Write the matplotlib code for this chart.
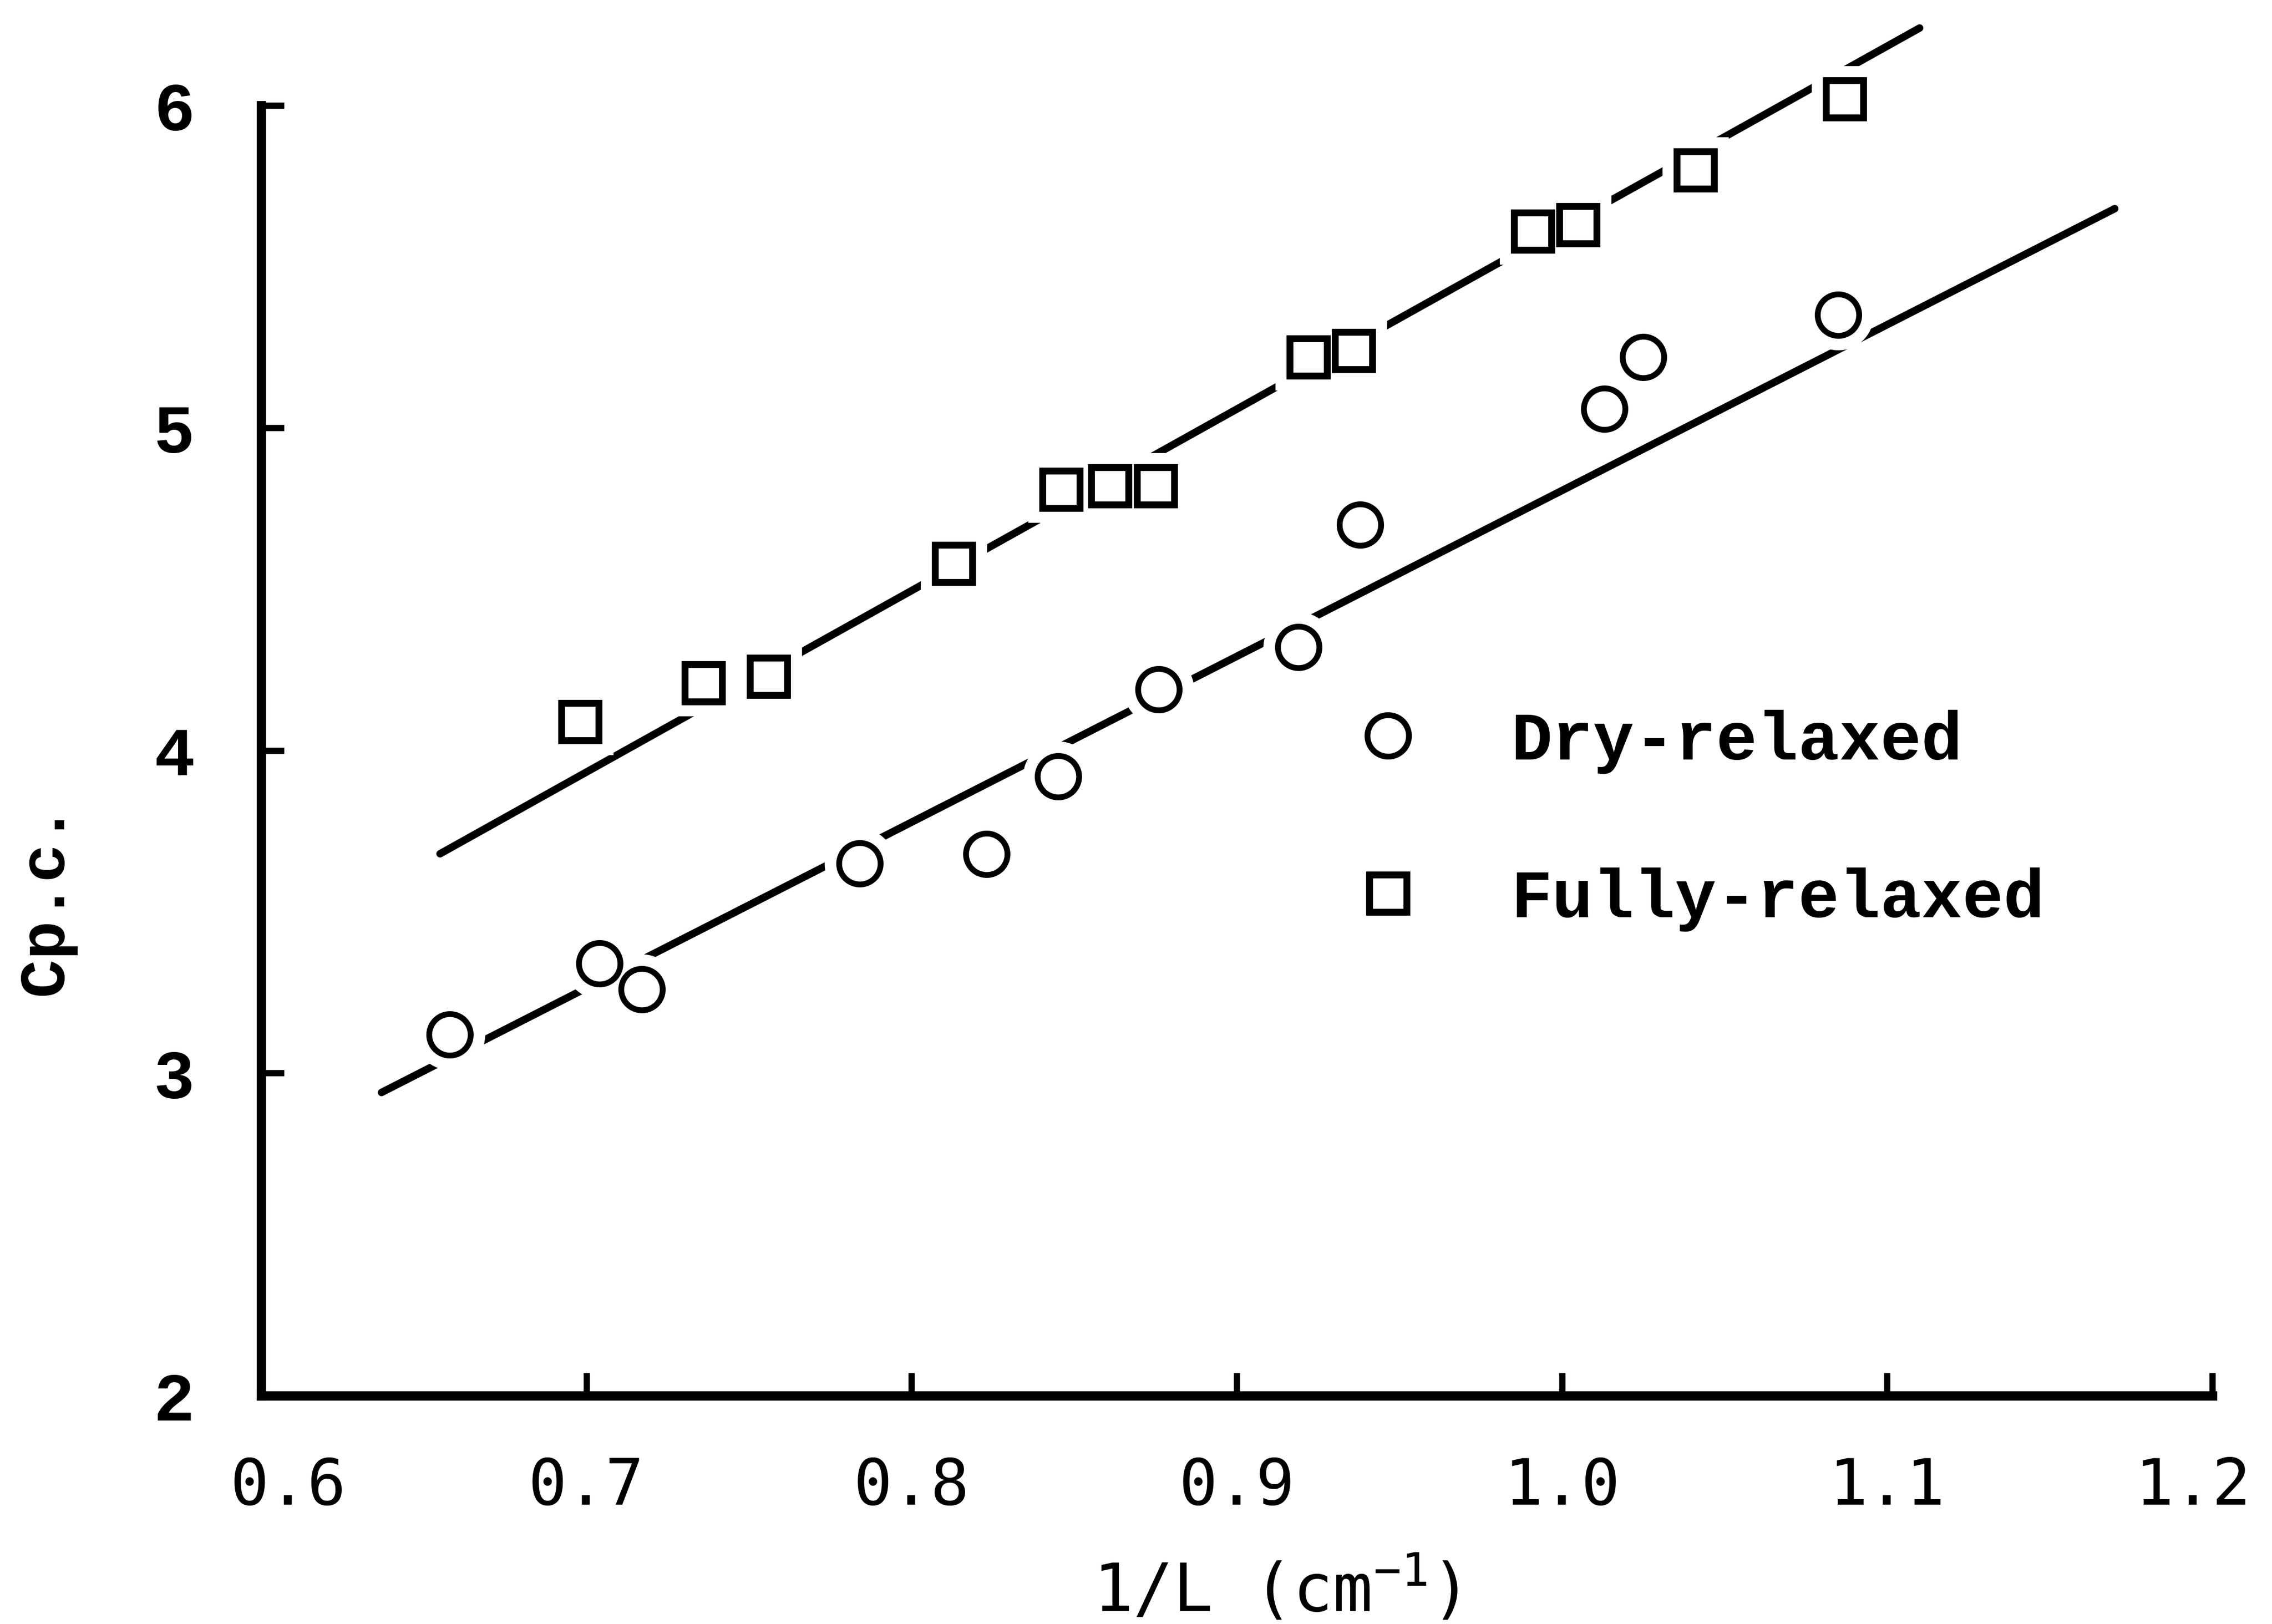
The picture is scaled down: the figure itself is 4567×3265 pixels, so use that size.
import matplotlib
matplotlib.use("Agg")
import matplotlib.pyplot as plt
from matplotlib.lines import Line2D
from matplotlib.transforms import ScaledTranslation

# ---- data ----
dry_x = [0.658, 0.704, 0.717, 0.784, 0.823, 0.845, 0.876, 0.919, 0.938, 1.013, 1.025, 1.085]
dry_y = [3.12, 3.34, 3.26, 3.65, 3.68, 3.92, 4.19, 4.32, 4.70, 5.06, 5.22, 5.35]
full_x = [0.698, 0.736, 0.756, 0.813, 0.846, 0.861, 0.875, 0.922, 0.936, 0.991, 1.005, 1.041, 1.087]
full_y = [4.09, 4.21, 4.23, 4.58, 4.81, 4.82, 4.82, 5.22, 5.24, 5.61, 5.63, 5.80, 6.02]
dry_line_x = [0.637, 1.170]
dry_line_y = [2.94, 5.68]
full_line_x = [0.655, 1.110]
full_line_y = [3.68, 6.24]
x_ticks = [0.6, 0.7, 0.8, 0.9, 1.0, 1.1, 1.2]
x_ticklabels = ["0.6", "0.7", "0.8", "0.9", "1.0", "1.1", "1.2"]
y_ticks = [2, 3, 4, 5, 6]
y_ticklabels = ["2", "3", "4", "5", "6"]
labels = ["Dry-relaxed", "Fully-relaxed"]

SERIF_MONO = "Liberation Mono"
SANS_MONO = "DejaVu Sans Mono"

fig = plt.figure(figsize=(4567 / 300, 3265 / 300), dpi=300)
ax = fig.add_axes([0.11496, 0.14058, 0.85877, 0.85409])

lw = 3.6
# fitted lines
ax.plot(dry_line_x, dry_line_y, color="black", lw=lw, solid_capstyle="round", zorder=1)
ax.plot(full_line_x, full_line_y, color="black", lw=lw, solid_capstyle="round", zorder=1)

# white halos that break the lines around the points
ax.plot(dry_x, dry_y, ls="none", marker="o", ms=20, mfc="white", mec="white", mew=14, zorder=2)
ax.plot(full_x, full_y, ls="none", marker="s", ms=18, mfc="white", mec="white", mew=14, zorder=2)

# points
ax.plot(dry_x, dry_y, ls="none", marker="o", ms=20, mfc="white", mec="black", mew=2.8, zorder=3)
ax.plot(full_x, full_y, ls="none", marker="s", ms=18, mfc="white", mec="black", mew=3.3, zorder=3)

ax.set_xlim(0.6, 1.2)
ax.set_ylim(2, 6.3)

for s in ["top", "right"]:
    ax.spines[s].set_visible(False)
for s in ["left", "bottom"]:
    ax.spines[s].set_linewidth(4.5)
    ax.spines[s].set_capstyle("projecting")
ax.spines["left"].set_bounds(2, 6)

ax.set_xticks(x_ticks)
ax.set_xticklabels(x_ticklabels, fontfamily=SANS_MONO, fontsize=31)
ax.set_yticks(y_ticks)
ax.set_yticklabels(y_ticklabels, fontfamily=SERIF_MONO, fontsize=33, fontweight="bold")
ax.tick_params(axis="x", direction="in", length=11, width=3, pad=29)
ax.tick_params(axis="y", direction="in", length=11, width=3, pad=32)

# nudge the end labels as in the original typesetting
xl = ax.get_xticklabels()
xl[0].set_transform(xl[0].get_transform() + ScaledTranslation(0.18, 0, fig.dpi_scale_trans))
xl[-1].set_transform(xl[-1].get_transform() + ScaledTranslation(-0.13, 0, fig.dpi_scale_trans))

ax.set_xlabel("1/L (cm$^{\\mathregular{-1}}$)", fontfamily=SANS_MONO, fontsize=32)
ax.xaxis.set_label_coords(0.520, -0.115)
ax.set_ylabel("Cp.c.", fontfamily=SERIF_MONO, fontsize=31, fontweight="bold")
ax.yaxis.set_label_coords(-0.095, 0.358)

handles = [
    Line2D([], [], ls="none", marker="o", ms=20, mfc="white", mec="black", mew=2.8),
    Line2D([], [], ls="none", marker="s", ms=18, mfc="white", mec="black", mew=3.3),
]
leg = ax.legend(handles, labels, loc="center left", bbox_to_anchor=(0.546, 0.4145),
                frameon=False, borderpad=0, handlelength=0.8, handletextpad=1.4,
                labelspacing=1.37, prop={"family": SERIF_MONO, "size": 33, "weight": "bold"})

fig.savefig("out.png", dpi=300, facecolor="white")
